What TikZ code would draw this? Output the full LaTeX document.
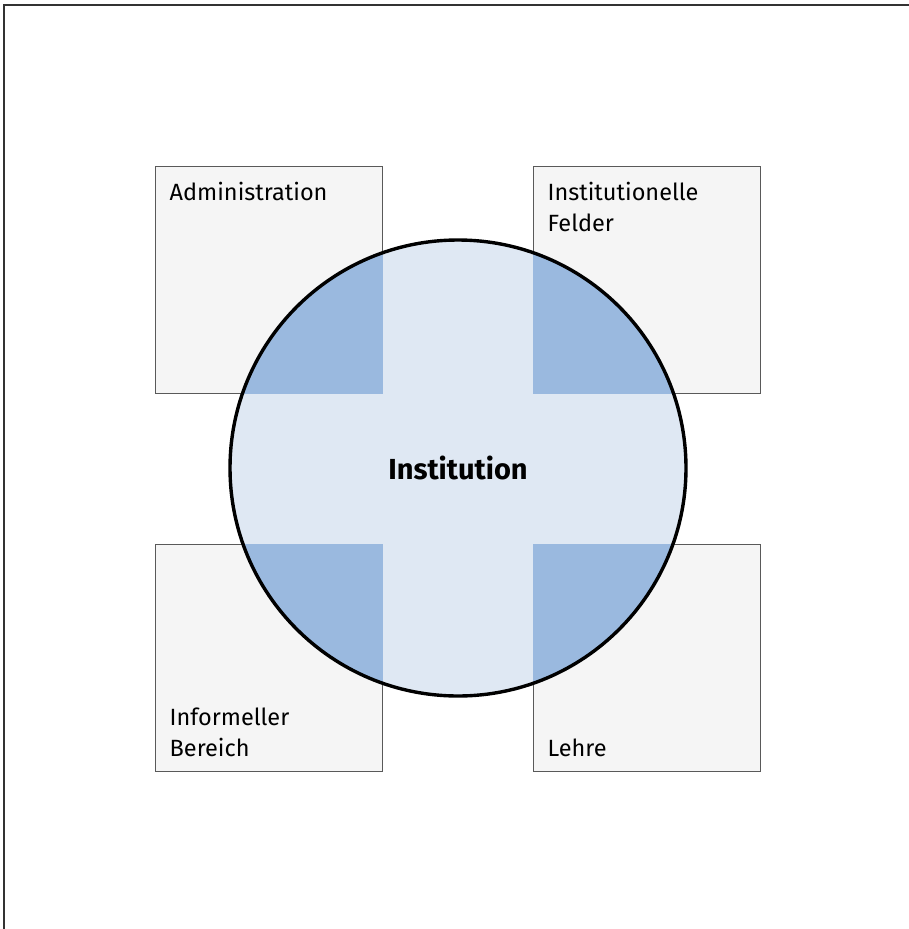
\documentclass[tikz,border=0pt]{standalone}
\usepackage{fontspec}
\setmainfont{Fira Sans}
\definecolor{fieldgray}{HTML}{F5F5F5}
\definecolor{instlight}{HTML}{DFE8F3}
\definecolor{instdark}{HTML}{9AB9DF}
\begin{document}
\begin{tikzpicture}[x=1pt,y=-1pt,
   field/.style={draw=black!65,fill=fieldgray,line width=1pt,
                 minimum size=227pt,inner sep=0pt},
   fieldtext/.style={inner sep=0pt,align=left,
                 font=\fontsize{23.5}{31}\selectfont},
   institution/.style={circle,fill=instlight,minimum size=456pt,inner sep=0pt}]

\useasboundingbox (0,0) rectangle (909,929);
\coordinate (frameR) at (909,5);
\coordinate (frameB) at (4,929);
\draw[black!80,line width=1.3pt] (frameR) -| (frameB);

% the four fields
\node[field] (adm) at (268.5,279.5) {};
\node[field] (fel) at (646.5,279.5) {};
\node[field] (inf) at (268.5,657.5) {};
\node[field] (leh) at (646.5,657.5) {};

% the institution
\node[institution] (inst) at (458,468) {};
\begin{scope}
   \clip (inst.center) circle[radius=228];
   \foreach \f in {adm,fel,inf,leh}
      \fill[instdark] (\f.north west) rectangle (\f.south east);
\end{scope}
\draw[line width=3.4pt] (inst.center) circle[radius=228];
\node[font=\fontsize{29}{34}\selectfont\bfseries] (insttext) at (inst.center) {Institution};

% labels
\node[fieldtext,anchor=north west] (admtext) at ([shift={(15,16)}]adm.north west) {Administration};
\node[fieldtext,anchor=north west] (feltext) at ([shift={(15,16)}]fel.north west) {Institutionelle\\Felder};
\node[fieldtext,anchor=south west] (inftext) at ([shift={(15,-15)}]inf.south west) {Informeller\\Bereich};
\node[fieldtext,anchor=south west] (lehtext) at ([shift={(15,-15)}]leh.south west) {Lehre};

\end{tikzpicture}
\end{document}
